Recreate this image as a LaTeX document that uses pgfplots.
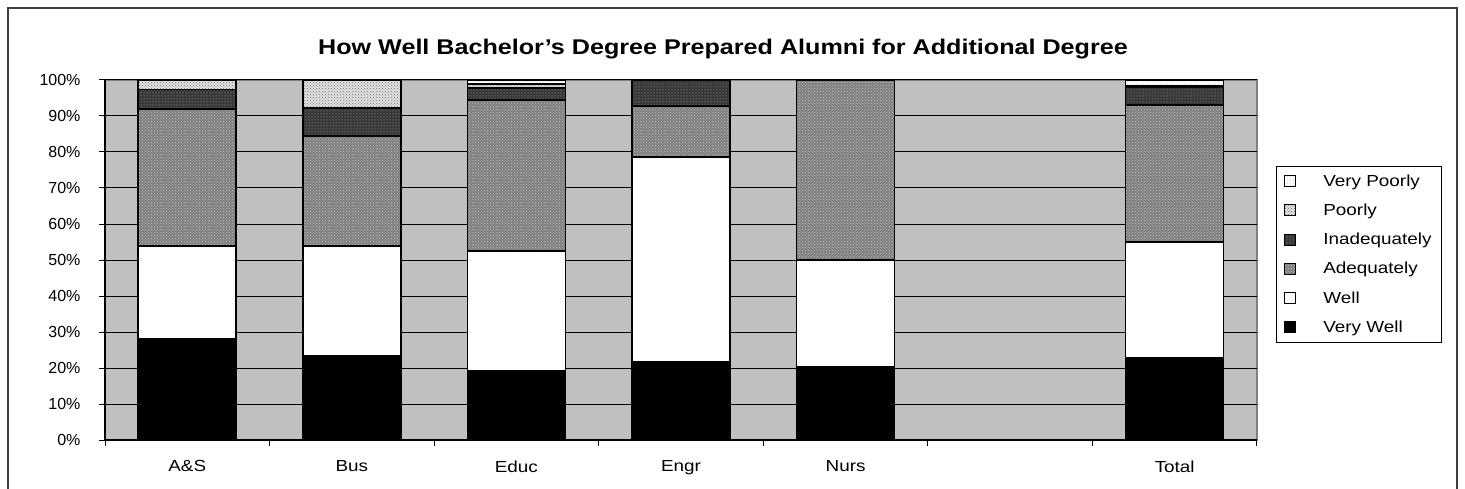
\documentclass[border=0pt]{standalone}
\usepackage{pgfplots}
\pgfplotsset{compat=1.18}
\usepackage{fontspec}
\setmainfont{Liberation Sans}[FakeStretch=1.18]
\newfontfamily\plainsans{Liberation Sans}
\usetikzlibrary{patterns}
\definecolor{bggray}{HTML}{C0C0C0}
\begin{document}
\begin{tikzpicture}
\useasboundingbox (0pt,0pt) rectangle (1465pt,-489pt);
\fill[white] (0pt,0pt) rectangle (1465pt,-489pt);
\draw[black!75, line width=1.5pt] (8pt,-489pt) -- (8pt,-8pt) -- (1457pt,-8pt) -- (1457pt,-489pt);
\node[font=\bfseries\fontsize{21.3}{25}\selectfont] at (723pt,-49pt) {How Well Bachelor's Degree Prepared Alumni for Additional Degree};
\begin{axis}[
  at={(105pt,-440pt)}, anchor=south west,
  scale only axis, width=1152pt, height=360pt,
  ybar stacked, bar width=98pt,
  xmin=-0.5, xmax=6.5, ymin=0, ymax=100,
  axis background/.style={fill=bggray, draw=black!50, line width=1.5pt},
  axis x line*=bottom, axis y line*=left,
  axis line style={black, line width=1.2pt},
  xtick={0,1,2,3,4,5,6},
  xticklabels={A\&S,Bus,Educ,Engr,Nurs,,Total},
  major x tick style={draw=none},
  minor xtick={-0.5,0.5,1.5,2.5,3.5,4.5,5.5,6.5},
  minor x tick style={black, line width=1pt},
  minor tick length=6pt,
  ytick={0,10,...,100},
  yticklabels={0\%,10\%,20\%,30\%,40\%,50\%,60\%,70\%,80\%,90\%,100\%},
  major y tick style={black, line width=1pt},
  major tick length=6pt,
  tick align=outside,
  ymajorgrids, y grid style={black, line width=1pt},
  xticklabel style={font=\fontsize{16}{19}\selectfont, yshift=-11pt},
  yticklabel style={font=\plainsans\fontsize{16}{19}\selectfont, xshift=-15pt},
  legend style={at={(1.0165,0.761)}, anchor=north west, draw=black, line width=0.8pt,
    fill=white, font=\fontsize{16}{19}\selectfont, row sep=12.2pt, inner xsep=8pt, inner ysep=6pt,
    cells={anchor=west}},
  legend image code/.code={\draw[#1, line width=1pt] (0pt,-5.5pt) rectangle (11pt,5.5pt);},
  reverse legend,
  every axis plot/.append style={draw=black, line width=1.6pt},
]
\addplot[fill=black] coordinates {(0,28.0) (1,23.3) (2,19.2) (3,21.7) (4,20.3) (6,22.8)};
\addlegendentry{\hspace{25pt}Very Well}
\addplot[fill=white] coordinates {(0,25.9) (1,30.6) (2,33.3) (3,56.9) (4,29.7) (6,32.2)};
\addlegendentry{\hspace{25pt}Well}
\addplot[fill=black!50, postaction={pattern=crosshatch dots, pattern color=black!25}] coordinates {(0,38.0) (1,30.5) (2,41.9) (3,14.2) (4,50.0) (6,38.1)};
\addlegendentry{\hspace{25pt}Adequately}
\addplot[fill=black!78, postaction={pattern=dots, pattern color=black!35}] coordinates {(0,5.5) (1,7.9) (2,3.3) (3,7.2) (4,0) (6,4.8)};
\addlegendentry{\hspace{25pt}Inadequately}
\addplot[fill=black!12, postaction={pattern=crosshatch dots, pattern color=black!55}] coordinates {(0,2.6) (1,7.7) (2,1.2) (3,0) (4,0) (6,0.5)};
\addlegendentry{\hspace{25pt}Poorly}
\addplot[fill=white, postaction={pattern=dots, pattern color=black!45}] coordinates {(0,0) (1,0) (2,1.1) (3,0) (4,0) (6,1.6)};
\addlegendentry{\hspace{25pt}Very Poorly}
\end{axis}
\end{tikzpicture}
\end{document}
